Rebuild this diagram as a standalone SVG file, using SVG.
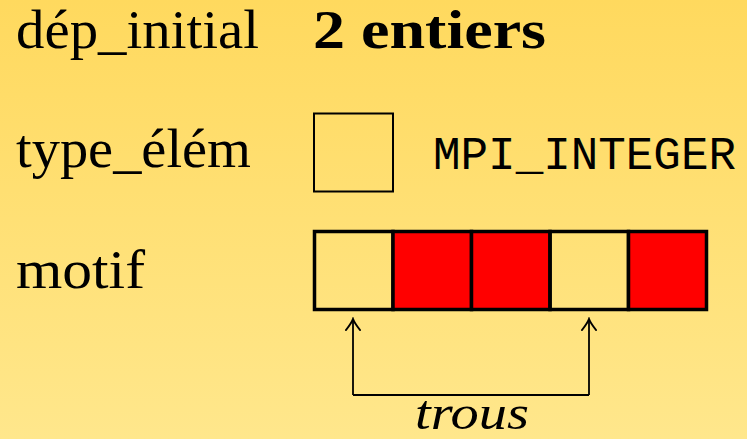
<svg xmlns="http://www.w3.org/2000/svg" width="747" height="439" viewBox="0 0 747 439">
<defs>
<linearGradient id="bg" x1="0" y1="0" x2="0" y2="1">
<stop offset="0" stop-color="#FFD95E"/>
<stop offset="1" stop-color="#FFE78C"/>
</linearGradient>
<marker id="arr" viewBox="-12 -9 14 18" refX="0" refY="0" markerWidth="14" markerHeight="18" markerUnits="userSpaceOnUse" orient="auto">
<path d="M-11,-7 Q-4,-1.5 0,0 Q-4,1.5 -11,7" fill="none" stroke="#000" stroke-width="2" stroke-linecap="round"/>
</marker>
</defs>
<style>
.lab{font-family:"Liberation Serif","DejaVu Serif",serif;font-size:54px;fill:#000}
.bold{font-weight:bold}
.mono{font-family:"Liberation Mono","DejaVu Sans Mono",monospace;font-size:46px;fill:#000}
.it{font-style:italic;font-size:48px}
.cell{stroke:#000;stroke-width:3.5}
.empty{fill:none}
.full{fill:#FF0000}
.conn{fill:none;stroke:#000;stroke-width:1.8}
</style>
<rect width="747" height="439" fill="url(#bg)"/>
<g id="dep_initial">
<text class="lab" x="16" y="48" textLength="243" lengthAdjust="spacingAndGlyphs">dép_initial</text>
<text class="lab bold" x="313" y="48" textLength="233" lengthAdjust="spacingAndGlyphs">2 entiers</text>
</g>
<g id="type_elem">
<text class="lab" x="16" y="167" textLength="235" lengthAdjust="spacingAndGlyphs">type_élém</text>
<rect x="314" y="113.5" width="79" height="78" fill="none" stroke="#000" stroke-width="2"/>
<text class="mono" x="433" y="169" textLength="303" lengthAdjust="spacingAndGlyphs">MPI_INTEGER</text>
</g>
<g id="motif">
<text class="lab" x="16" y="288" textLength="129" lengthAdjust="spacingAndGlyphs">motif</text>
<rect class="cell empty" x="314.5" y="231.5" width="78.5" height="78"/>
<rect class="cell full" x="393" y="231.5" width="78.5" height="78"/>
<rect class="cell full" x="471.5" y="231.5" width="78.5" height="78"/>
<rect class="cell empty" x="550" y="231.5" width="78.5" height="78"/>
<rect class="cell full" x="628.5" y="231.5" width="78" height="78"/>
</g>
<g id="connectors">
<path class="conn" d="M353,395 V319" marker-end="url(#arr)"/>
<path class="conn" d="M589,395 V319" marker-end="url(#arr)"/>
<path class="conn" d="M353,395 H589"/>
</g>
<g id="trous">
<text class="lab it" x="472" y="429" text-anchor="middle" textLength="114" lengthAdjust="spacingAndGlyphs">trous</text>
</g>
</svg>
